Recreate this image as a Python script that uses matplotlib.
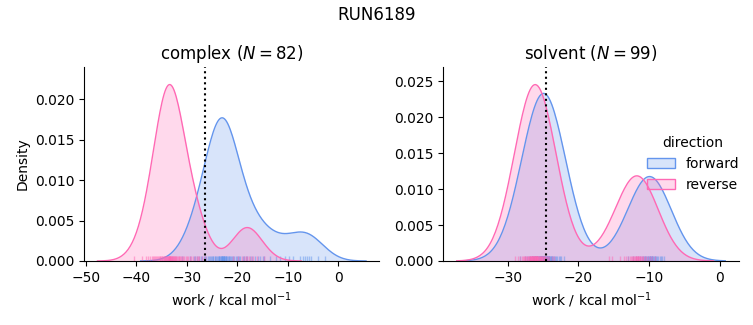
import numpy as np
import matplotlib
matplotlib.use("Agg")
import matplotlib.pyplot as plt
from matplotlib.patches import Patch

run_name = "RUN6189"
phases = ["complex", "solvent"]
directions = ["forward", "reverse"]
colors = {"forward": "#6495ED", "reverse": "#FF69B4"}

# work values (kcal/mol)
complex_forward = [
    -31.0, -29.4, -28.6, -28.3, -28.0, -27.6, -27.1, -26.9, -26.6, -26.4, -26.1,
    -25.7, -25.6, -25.4, -25.2, -25.0, -24.8, -24.7, -24.4, -24.3, -24.1, -24.0,
    -23.8, -23.7, -23.7, -23.6, -23.4, -23.3, -23.3, -23.1, -23.1, -23.0, -23.0,
    -22.9, -22.9, -22.7, -22.7, -22.6, -22.6, -22.4, -22.3, -22.2, -22.2, -22.0,
    -21.9, -21.7, -21.6, -21.5, -21.2, -21.0, -20.8, -20.6, -20.3, -20.1, -19.9,
    -19.6, -19.4, -18.9, -18.7, -18.2, -18.0, -17.4, -17.0, -16.4, -15.4, -14.6,
    -15.8, -14.9, -13.6, -12.4, -11.5, -10.6, -9.8, -8.9, -7.6, -7.0, -6.6,
    -6.2, -5.8, -5.3, -4.1, -2.6,
]
complex_reverse = [
    -40.4, -38.8, -38.1, -37.6, -37.2, -36.9, -36.6, -36.4, -36.2, -36.0, -35.8,
    -35.6, -35.5, -35.3, -35.2, -35.0, -34.9, -34.8, -34.6, -34.5, -34.4, -34.3,
    -34.2, -34.1, -34.0, -33.9, -33.9, -33.8, -33.7, -33.6, -33.6, -33.5, -33.5,
    -33.4, -33.4, -33.3, -33.3, -33.2, -33.1, -33.0, -33.0, -32.9, -32.8, -32.7,
    -32.6, -32.5, -32.4, -32.3, -32.2, -32.1, -31.9, -31.8, -31.6, -31.5, -31.3,
    -31.1, -30.9, -30.7, -30.5, -30.2, -30.0, -29.7, -29.4, -29.1, -28.8, -28.4,
    -28.0, -27.8, -27.5, -27.0, -26.4,
    -20.8, -19.8, -19.1, -18.7, -18.3, -18.0, -17.7, -17.3, -16.8, -16.1, -14.6,
]
solvent_forward = [
    -28.2, -27.6, -27.3, -27.0, -26.8, -26.6, -26.5, -26.4, -26.3, -26.2, -26.1,
    -26.0, -25.9, -25.8, -25.8, -25.7, -25.6, -25.6, -25.5, -25.5, -25.4, -25.4,
    -25.3, -25.3, -25.3, -25.2, -25.2, -25.2, -25.1, -25.1, -25.0, -25.0, -25.0,
    -24.9, -24.9, -24.9, -24.8, -24.8, -24.7, -24.7, -24.6, -24.6, -24.5, -24.5,
    -24.4, -24.4, -24.3, -24.3, -24.2, -24.2, -24.1, -24.1, -24.0, -23.9, -23.9,
    -23.8, -23.7, -23.6, -23.5, -23.3, -23.2, -23.0, -22.8, -22.6, -22.4, -22.1,
    -12.9, -12.3, -11.8, -11.5, -11.2, -11.0, -10.8, -10.7, -10.6, -10.5, -10.4,
    -10.3, -10.2, -10.1, -10.0, -9.9, -9.9, -9.8, -9.7, -9.6, -9.6, -9.5,
    -9.4, -9.3, -9.2, -9.1, -9.0, -8.9, -8.7, -8.5, -8.3, -8.1, -7.8,
]
solvent_reverse = [
    -29.0, -28.6, -28.3, -28.0, -27.8, -27.7, -27.6, -27.5, -27.4, -27.3, -27.2,
    -27.1, -27.0, -26.9, -26.9, -26.8, -26.8, -26.7, -26.7, -26.6, -26.6, -26.5,
    -26.5, -26.5, -26.4, -26.4, -26.4, -26.3, -26.3, -26.3, -26.2, -26.2, -26.1,
    -26.1, -26.1, -26.0, -26.0, -26.0, -25.9, -25.9, -25.9, -25.8, -25.8, -25.7,
    -25.7, -25.6, -25.6, -25.5, -25.5, -25.4, -25.3, -25.3, -25.2, -25.1, -25.1,
    -25.0, -24.9, -24.9, -24.8, -24.7, -24.6, -24.5, -24.3, -24.1, -23.8, -23.5,
    -15.6, -15.2, -14.1, -13.6, -13.2, -12.9, -12.7, -12.5, -12.4, -12.3, -12.2,
    -12.1, -12.0, -11.9, -11.8, -11.8, -11.7, -11.6, -11.6, -11.5, -11.4, -11.3,
    -11.2, -11.1, -11.0, -10.9, -10.8, -10.6, -10.4, -10.2, -9.9, -9.6, -9.1,
]
free_energy = {"complex": -26.3, "solvent": -24.6}

works = {
    ("complex", "forward"): np.array(complex_forward),
    ("complex", "reverse"): np.array(complex_reverse),
    ("solvent", "forward"): np.array(solvent_forward),
    ("solvent", "reverse"): np.array(solvent_reverse),
}
n_all = sum(len(v) for v in works.values())


def kde(x, gridsize=200, cut=3):
    # gaussian kde, scott bandwidth (same as scipy / seaborn)
    bw = len(x) ** (-0.2) * np.std(x, ddof=1)
    grid = np.linspace(x.min() - cut * bw, x.max() + cut * bw, gridsize)
    z = (grid[:, None] - x[None, :]) / bw
    dens = np.exp(-0.5 * z ** 2).sum(axis=1) / (len(x) * bw * np.sqrt(2 * np.pi))
    return grid, dens


fig, axes = plt.subplots(1, 2, figsize=(7.53, 3.25), dpi=100)
fig.subplots_adjust(left=0.1116, right=0.981, bottom=0.197, top=0.794, wspace=0.216)

for ax, phase in zip(axes, phases):
    ymax = 0
    n = len(works[(phase, "forward")])
    for d in directions:
        x = works[(phase, d)]
        grid, dens = kde(x)
        dens = dens * len(x) / n_all
        ax.fill_between(grid, dens, color=colors[d], alpha=0.25, lw=0)
        ax.plot(grid, dens, color=colors[d], lw=1)
        # rug
        ax.vlines(x, 0, 0.025, transform=ax.get_xaxis_transform(),
                  color=colors[d], alpha=0.5, lw=1)
        ymax = max(ymax, dens.max())
    ax.axvline(free_energy[phase], color="black", ls=":", lw=1.5)
    ax.set_ylim(0, ymax * 1.1)
    ax.set_title(f"{phase} ($N = {n}$)")
    ax.set_xlabel("work / kcal mol$^{-1}$")
    ax.spines["top"].set_visible(False)
    ax.spines["right"].set_visible(False)

axes[0].set_ylabel("Density")
axes[1].set_xticks([-30, -20, -10, 0])

handles = [Patch(facecolor=matplotlib.colors.to_rgba(colors[d], 0.25),
                 edgecolor=colors[d], label=d) for d in directions]
axes[1].legend(handles=handles, title="direction", loc="center right",
               bbox_to_anchor=(1.045, 0.5), frameon=False)

fig.suptitle(run_name)
fig.savefig("out.png")
